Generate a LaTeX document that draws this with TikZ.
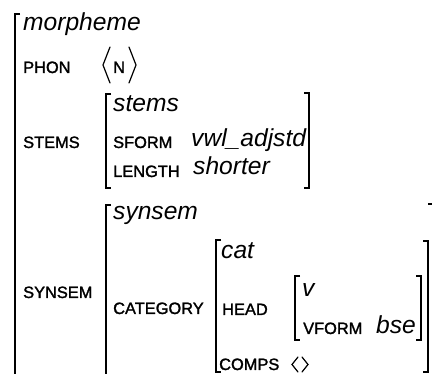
\documentclass[tikz,border=0pt]{standalone}
\usepackage{fontspec}
\setmainfont{Liberation Sans}
\newfontfamily\featfont[FakeBold=1.6]{Liberation Sans}
\begin{document}
\begin{tikzpicture}[x=1pt,y=-1pt,
  typ/.style={anchor=base west,inner sep=0pt,font=\fontsize{24.6}{30}\selectfont\itshape},
  feat/.style={anchor=base west,inner sep=0pt,font=\featfont\fontsize{16.4}{19}\selectfont},
  brk/.style={line width=1.6pt,line cap=butt,line join=miter},
  ang/.style={line width=1.2pt,line cap=round,line join=miter}]
\useasboundingbox (0,0) rectangle (432,374);
\clip (0,0) rectangle (432,374);

% outermost matrix: morpheme
\draw[brk] (20,14) -- (15,14) -- (15,390);
\node[typ] (morpheme) at (23,31) {morpheme};
\node[feat] (phon) at (23,73) {PHON};
\draw[ang] (110,47) -- (103,65) -- (110,83);
\node[feat] (n) at (113,73) {N};
\draw[ang] (129,47) -- (136,65) -- (129,83);

% STEMS value
\node[feat] (stemsf) at (23,148) {STEMS};
\draw[brk] (111,94) -- (106,94) -- (106,188) -- (111,188);
\draw[brk] (304,93) -- (309,93) -- (309,188) -- (304,188);
\node[typ] (stems) at (113,112) {stems};
\node[feat] (sform) at (113,148) {SFORM};
\node[typ] (vwl) at (191,147) {vwl\_adjstd};
\node[feat] (length) at (113,177) {LENGTH};
\node[typ] (shorter) at (193,175) {shorter};

% SYNSEM value
\node[feat] (synsemf) at (23,298) {SYNSEM};
\draw[brk] (111,205) -- (106,205) -- (106,390);
\draw[brk] (428,204) -- (435,204) -- (435,390);
\node[typ] (synsem) at (113,220) {synsem};
\node[feat] (category) at (113,314) {CATEGORY};

% CATEGORY value
\draw[brk] (221,240) -- (216,240) -- (216,372) -- (221,372);
\draw[brk] (423,241) -- (428,241) -- (428,372) -- (423,372);
\node[typ] (cat) at (221,259) {cat};
\node[feat] (head) at (222,315) {HEAD};
\node[feat] (comps) at (219,370) {COMPS};
\draw[ang] (298,357) -- (292,364.5) -- (298,372);
\draw[ang] (302,357) -- (308,364.5) -- (302,372);

% HEAD value
\draw[brk] (300,276) -- (295,276) -- (295,340) -- (300,340);
\draw[brk] (416,276) -- (421,276) -- (421,340) -- (416,340);
\node[typ] (v) at (302,297) {v};
\node[feat] (vform) at (303,334) {VFORM};
\node[typ] (bse) at (376,334) {bse};
\end{tikzpicture}
\end{document}
